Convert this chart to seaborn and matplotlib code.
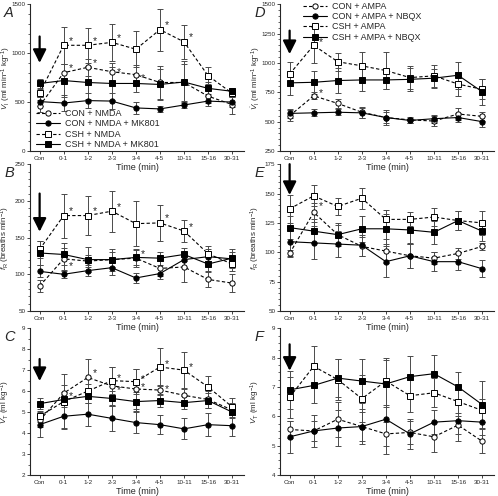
import numpy as np
import pandas as pd
import matplotlib
matplotlib.use("Agg")
import matplotlib.pyplot as plt
import seaborn as sns
from matplotlib.lines import Line2D
from matplotlib.ticker import MultipleLocator

sns.set_style("ticks")
plt.rcParams["font.family"] = ["Liberation Sans", "DejaVu Sans"]
plt.rcParams["mathtext.fontset"] = "custom"
plt.rcParams["mathtext.rm"] = "Liberation Sans"
plt.rcParams["mathtext.it"] = "Liberation Sans:italic"

# ---------------- data ----------------
time_labels = ["Con", "0-1", "1-2", "2-3", "3-4", "4-5", "10-11", "15-16", "30-31"]

legend_nmda = ["CON + NMDA", "CON + NMDA + MK801", "CSH + NMDA", "CSH + NMDA + MK801"]
legend_ampa = ["CON + AMPA", "CON + AMPA + NBQX", "CSH + AMPA", "CSH + AMPA + NBQX"]

# Panel A: VI (ml min-1 kg-1), NMDA
a_con = [460, 800, 855, 810, 780, 700, 700, 560, 475]
a_con_err = [60, 90, 85, 90, 100, 170, 190, 70, 100]
a_con_mk = [505, 490, 515, 510, 440, 430, 470, 510, 500]
a_con_mk_err = [50, 80, 80, 80, 60, 30, 30, 50, 50]
a_csh = [590, 1080, 1080, 1110, 1040, 1240, 1115, 770, 590]
a_csh_err = [40, 190, 180, 190, 185, 215, 175, 85, 40]
a_csh_mk = [690, 720, 700, 690, 690, 680, 705, 640, 610]
a_csh_mk_err = [45, 170, 170, 170, 90, 160, 210, 60, 30]

# Panel B: fR (breaths min-1), NMDA
b_con = [84, 121, 118, 120, 122, 108, 110, 93, 88]
b_con_err = [8, 15, 8, 10, 12, 10, 20, 10, 12]
b_con_mk = [104, 100, 105, 109, 95, 101, 120, 124, 121]
b_con_mk_err = [8, 5, 8, 10, 7, 8, 10, 10, 10]
b_csh = [134, 180, 180, 186, 169, 170, 159, 128, 114]
b_csh_err = [12, 30, 27, 28, 31, 24, 15, 10, 10]
b_csh_mk = [129, 127, 120, 120, 123, 122, 127, 114, 122]
b_csh_mk_err = [17, 15, 17, 15, 10, 9, 9, 10, 13]

# Panel C: VT (ml kg-1), NMDA
c_con = [4.6, 5.9, 6.65, 6.25, 6.1, 6.05, 5.8, 5.6, 5.1]
c_con_err = [0.3, 0.4, 0.9, 0.9, 0.95, 0.25, 0.3, 0.4, 0.35]
c_con_mk = [4.4, 4.8, 4.9, 4.7, 4.5, 4.4, 4.2, 4.4, 4.35]
c_con_mk_err = [0.6, 0.55, 0.55, 0.6, 0.5, 0.45, 0.5, 0.55, 0.5]
c_csh = [4.8, 5.5, 6.0, 6.5, 6.45, 7.15, 7.0, 6.2, 5.25]
c_csh_err = [0.25, 1.3, 0.35, 0.65, 0.6, 0.9, 0.85, 0.5, 0.4]
c_csh_mk = [5.4, 5.6, 5.75, 5.65, 5.5, 5.55, 5.45, 5.55, 5.0]
c_csh_mk_err = [0.25, 0.35, 0.3, 0.35, 0.45, 0.3, 0.3, 0.35, 0.3]

# Panel D: VI (ml min-1 kg-1), AMPA
d_con = [550, 720, 655, 580, 535, 515, 505, 565, 545]
d_con_err = [45, 30, 35, 45, 60, 25, 40, 50, 40]
d_con_nb = [570, 575, 580, 575, 535, 510, 525, 535, 500]
d_con_nb_err = [35, 30, 25, 40, 50, 25, 35, 40, 45]
d_csh = [905, 1150, 1010, 975, 935, 875, 890, 820, 775]
d_csh_err = [100, 155, 75, 115, 160, 100, 95, 100, 85]
d_csh_nb = [830, 835, 850, 855, 855, 860, 870, 895, 755]
d_csh_nb_err = [100, 100, 110, 95, 75, 100, 80, 115, 110]

# Panel E: fR (breaths min-1), AMPA
e_con = [99, 134, 115, 105, 101, 97, 95, 99, 105]
e_con_err = [3, 8, 8, 8, 10, 10, 5, 5, 3]
e_con_nb = [109, 108, 107, 106, 92, 97, 92, 92, 86]
e_con_nb_err = [12, 14, 11, 9, 13, 10, 8, 7, 7]
e_csh = [137, 148, 139, 146, 128, 128, 130, 127, 125]
e_csh_err = [12, 9, 7, 9, 8, 6, 8, 8, 10]
e_csh_nb = [121, 118, 115, 120, 120, 119, 117, 127, 118]
e_csh_nb_err = [10, 10, 10, 11, 13, 11, 10, 8, 8]

# Panel F: VT (ml kg-1), AMPA
f_con = [5.55, 5.5, 5.9, 5.65, 5.4, 5.45, 5.3, 5.7, 5.15]
f_con_err = [0.3, 0.35, 0.6, 0.5, 0.4, 0.4, 0.5, 0.3, 0.4]
f_con_nb = [5.3, 5.5, 5.6, 5.65, 5.9, 5.4, 5.8, 5.85, 5.8]
f_con_nb_err = [0.55, 0.55, 0.6, 0.6, 1.2, 0.5, 0.4, 0.7, 0.45]
f_csh = [6.65, 7.7, 7.25, 6.6, 7.2, 6.7, 6.8, 6.5, 6.2]
f_csh_err = [0.7, 0.7, 0.7, 0.8, 0.8, 0.55, 0.5, 0.4, 0.4]
f_csh_nb = [6.9, 7.05, 7.3, 7.2, 7.1, 7.35, 7.45, 7.0, 6.4]
f_csh_nb_err = [0.65, 0.6, 0.65, 0.75, 0.8, 0.7, 0.65, 0.5, 0.8]

# significance stars: (series index, time index, vertical offset as fraction of y-range)
a_stars = [(2, 1, .03), (2, 2, .03), (2, 3, .03), (2, 5, .03), (2, 6, .03),
           (0, 1, .03), (0, 2, .03), (0, 3, .0), (0, 4, -.02)]
b_stars = [(2, 1, .03), (2, 2, .03), (2, 3, .03), (2, 5, .03), (2, 6, .03),
           (0, 1, -.05), (0, 4, .03)]
c_stars = [(0, 1, -.02), (0, 2, .03), (2, 3, .02), (0, 3, -.03), (2, 4, .02),
           (0, 4, .01), (2, 5, .02), (0, 5, .01), (2, 6, .02)]
d_stars = [(2, 1, .02), (0, 1, .02)]
e_stars = [(0, 1, .04)]
f_stars = []

# ---------------- figure ----------------
styles = [
    dict(marker="o", mfc="white", ls=(0, (3, 2))),
    dict(marker="o", mfc="black", ls="-"),
    dict(marker="s", mfc="white", ls=(0, (3, 2))),
    dict(marker="s", mfc="black", ls="-"),
]

fig = plt.figure(figsize=(4.98, 4.96), dpi=100)
W = 0.43
H = 0.296
col_left = [30 / 498, 280 / 498]
row_bottom = [1 - 151 / 496, 1 - 311 / 496, 1 - 475 / 496]

panels = [
    dict(letter="A", col=0, row=0, series=[(a_con, a_con_err), (a_con_mk, a_con_mk_err), (a_csh, a_csh_err), (a_csh_mk, a_csh_mk_err)],
         ylim=(0, 1500), major=500, minor=100, ylabel=r"$\dot{V}_\mathrm{I}$ (ml min$^{-1}$ kg$^{-1}$)",
         arrow=(0.78, 0.60), stars=a_stars, legend=legend_nmda, legpos=("lower left", (0.0, -0.03))),
    dict(letter="B", col=0, row=1, series=[(b_con, b_con_err), (b_con_mk, b_con_mk_err), (b_csh, b_csh_err), (b_csh_mk, b_csh_mk_err)],
         ylim=(50, 250), major=50, minor=10, ylabel=r"$f_\mathrm{R}$ (breaths min$^{-1}$)",
         arrow=(0.80, 0.54), stars=b_stars, legend=None, legpos=None),
    dict(letter="C", col=0, row=2, series=[(c_con, c_con_err), (c_con_mk, c_con_mk_err), (c_csh, c_csh_err), (c_csh_mk, c_csh_mk_err)],
         ylim=(2, 9), major=1, minor=0.5, ylabel=r"$V_\mathrm{T}$ (ml kg$^{-1}$)",
         arrow=(0.79, 0.64), stars=c_stars, legend=None, legpos=None),
    dict(letter="D", col=1, row=0, series=[(d_con, d_con_err), (d_con_nb, d_con_nb_err), (d_csh, d_csh_err), (d_csh_nb, d_csh_nb_err)],
         ylim=(250, 1500), major=250, minor=50, ylabel=r"$\dot{V}_\mathrm{I}$ (ml min$^{-1}$ kg$^{-1}$)",
         arrow=(0.82, 0.66), stars=d_stars, legend=legend_ampa, legpos=("upper left", (0.08, 1.06))),
    dict(letter="E", col=1, row=1, series=[(e_con, e_con_err), (e_con_nb, e_con_nb_err), (e_csh, e_csh_err), (e_csh_nb, e_csh_nb_err)],
         ylim=(50, 175), major=25, minor=5, ylabel=r"$f_\mathrm{R}$ (breaths min$^{-1}$)",
         arrow=(1.0, 0.79), stars=e_stars, legend=None, legpos=None),
    dict(letter="F", col=1, row=2, series=[(f_con, f_con_err), (f_con_nb, f_con_nb_err), (f_csh, f_csh_err), (f_csh_nb, f_csh_nb_err)],
         ylim=(4, 9), major=1, minor=0.25, ylabel=r"$V_\mathrm{T}$ (ml kg$^{-1}$)",
         arrow=(0.89, 0.71), stars=f_stars, legend=None, legpos=None),
]

pos = np.arange(len(time_labels))
for p in panels:
    ax = fig.add_axes([col_left[p["col"]], row_bottom[p["row"]], W, H])
    ax.set_facecolor("none")
    for (vals, errs), st in zip(p["series"], styles):
        df = pd.DataFrame({"pos": pos, "val": vals, "err": errs})
        ax.errorbar(df["pos"], df["val"], yerr=df["err"], fmt="none", ecolor="#4a4a4a",
                    elinewidth=0.7, capsize=2.0, capthick=0.7, zorder=2)
        sns.lineplot(data=df, x="pos", y="val", ax=ax, color="black", lw=0.8,
                     linestyle=st["ls"], marker=st["marker"], markersize=3.8,
                     markerfacecolor=st["mfc"], markeredgecolor="black",
                     markeredgewidth=0.7, zorder=3, errorbar=None)
    ymin, ymax = p["ylim"]
    rng = ymax - ymin
    for si, ti, dy in p["stars"]:
        yv = p["series"][si][0][ti]
        ax.text(pos[ti] + 0.3, yv + dy * rng, "*", fontsize=7.5, ha="center", va="center", zorder=4)
    ax.annotate("", xy=(0, p["arrow"][1]), xytext=(0, p["arrow"][0]),
                xycoords=("data", "axes fraction"), textcoords=("data", "axes fraction"),
                arrowprops=dict(arrowstyle="-|>,head_width=0.4,head_length=0.8",
                                color="black", lw=1.6, mutation_scale=10, shrinkA=0, shrinkB=0))
    ax.set_xlim(-0.4, 8.5)
    ax.set_ylim(ymin, ymax)
    ax.set_xticks(pos)
    ax.set_xticklabels(time_labels)
    ax.yaxis.set_major_locator(MultipleLocator(p["major"]))
    ax.yaxis.set_minor_locator(MultipleLocator(p["minor"]))
    ax.tick_params(axis="both", which="major", labelsize=4.5, length=2.2, width=0.6, pad=1.2)
    ax.tick_params(axis="y", which="minor", length=1.2, width=0.5)
    for s in ["top", "right"]:
        ax.spines[s].set_visible(False)
    for s in ["left", "bottom"]:
        ax.spines[s].set_linewidth(0.8)
    ax.set_xlabel("Time (min)", fontsize=6.5)
    ax.xaxis.set_label_coords(0.5, -0.085)
    ax.set_ylabel(p["ylabel"], fontsize=5.8, va="center")
    ax.yaxis.set_label_coords(-0.113, 0.5)
    fig.text(col_left[p["col"]] - 0.052, row_bottom[p["row"]] + H - 0.003, p["letter"],
             fontsize=10.5, style="italic", ha="left", va="top")
    if p["legend"]:
        handles = [Line2D([], [], color="black", lw=0.8, ls=st["ls"], marker=st["marker"],
                          mfc=st["mfc"], mec="black", mew=0.7, ms=3.8) for st in styles]
        ax.legend(handles, p["legend"], loc=p["legpos"][0], bbox_to_anchor=p["legpos"][1],
                  frameon=False, fontsize=6.5, handlelength=2.6, labelspacing=0.15,
                  handletextpad=0.6, borderpad=0.2)

fig.savefig("out.png", dpi=100, facecolor="white")
